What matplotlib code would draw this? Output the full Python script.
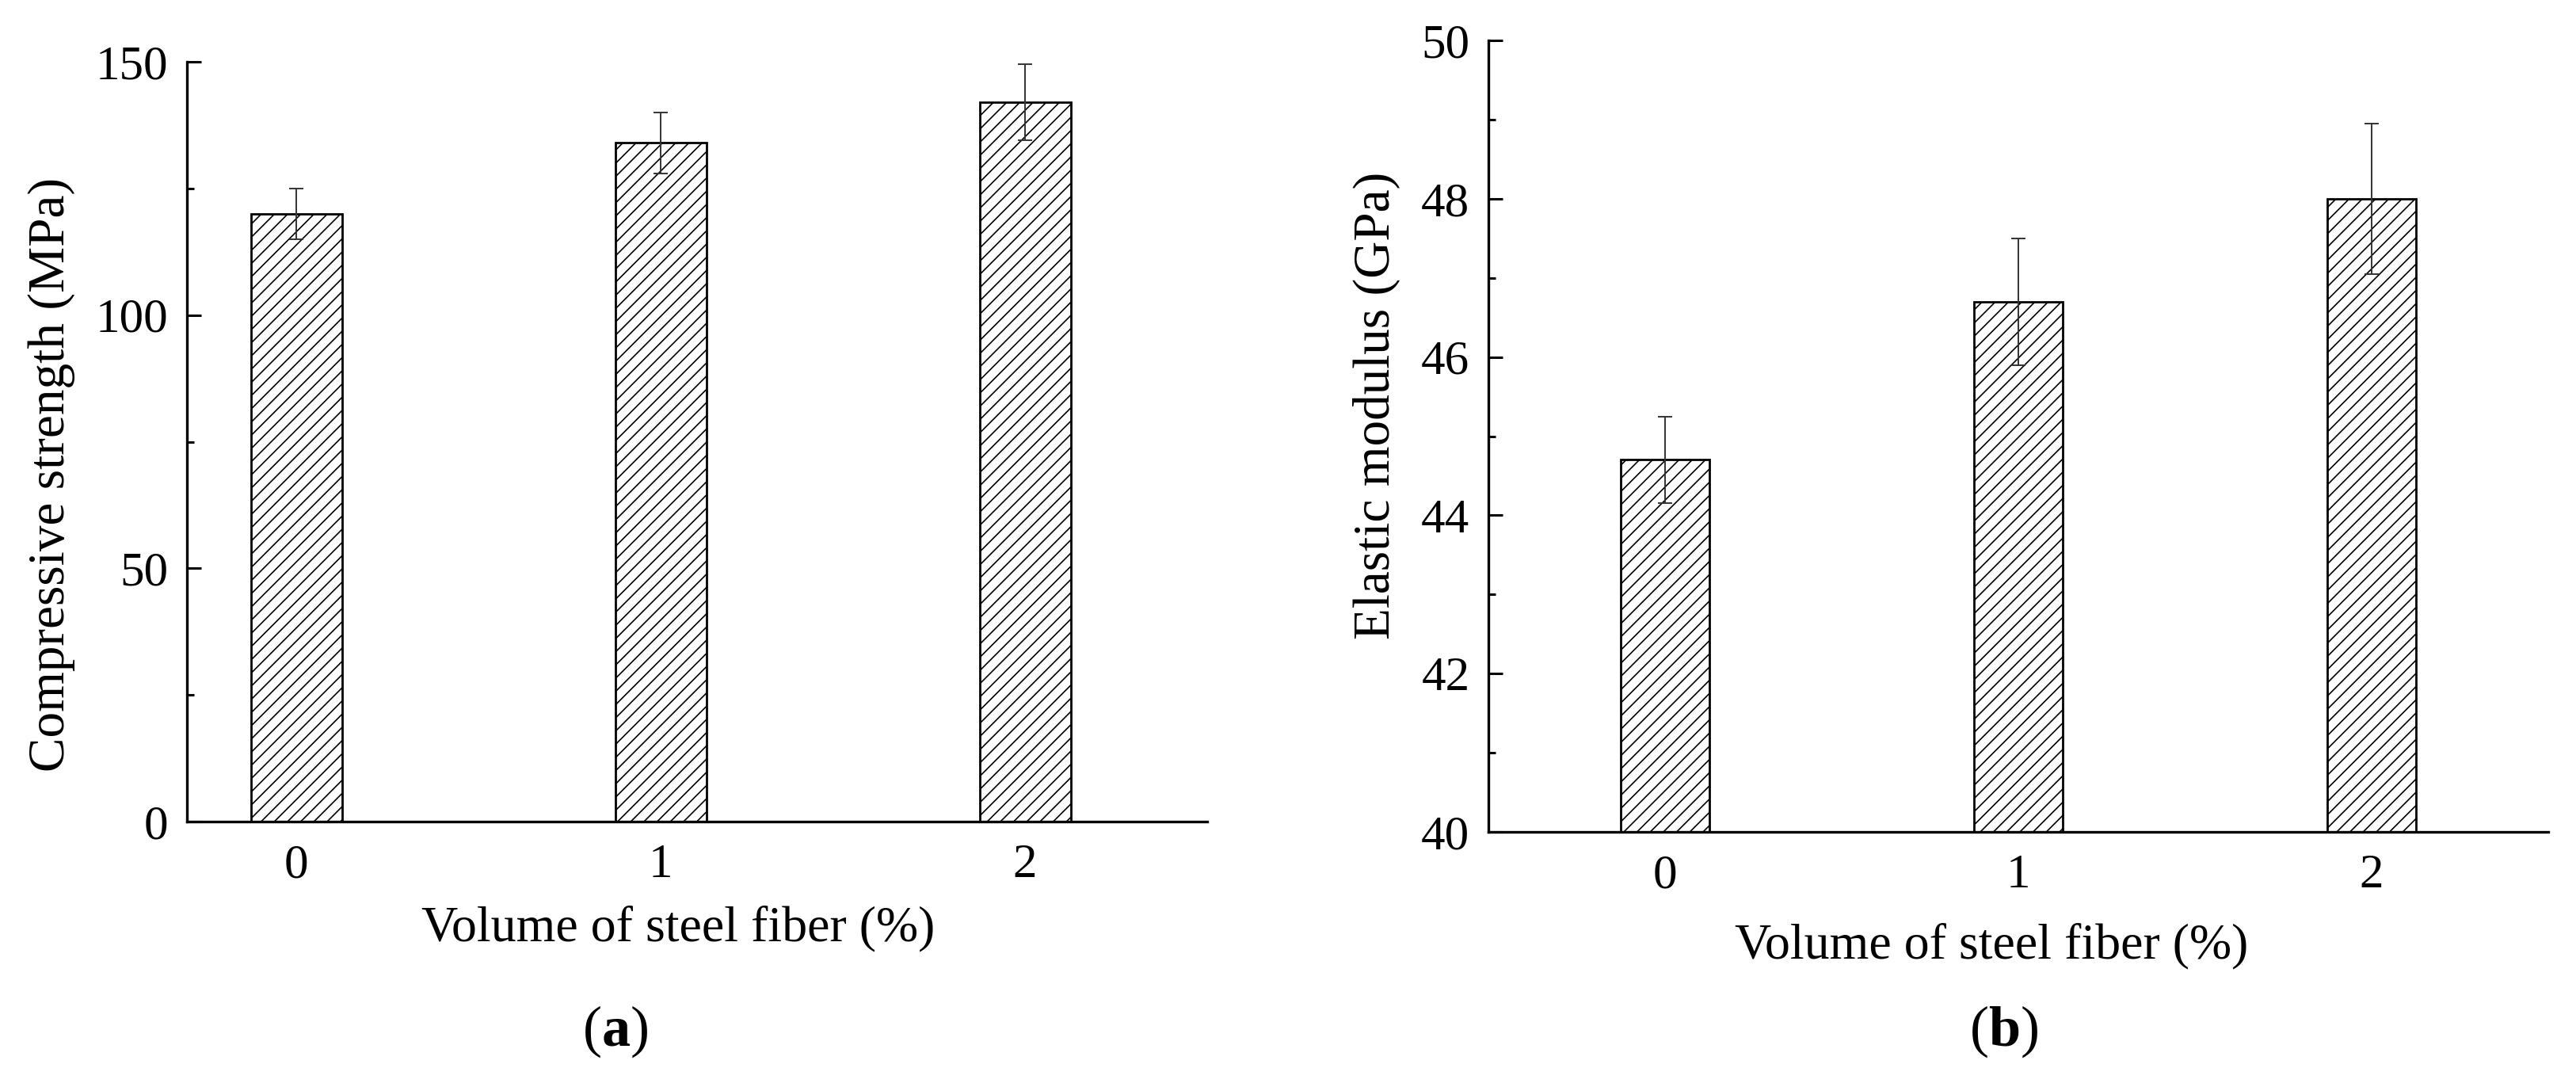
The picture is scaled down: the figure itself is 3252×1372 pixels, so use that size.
import numpy as np
import matplotlib.pyplot as plt
from matplotlib.ticker import MultipleLocator

plt.rcParams['font.family'] = ['Liberation Serif', 'DejaVu Serif']
plt.rcParams['mathtext.fontset'] = 'custom'
plt.rcParams['mathtext.rm'] = 'Liberation Serif'
plt.rcParams['mathtext.bf'] = 'Liberation Serif:bold'
plt.rcParams['hatch.linewidth'] = 0.6

W, H = 3252, 1372   # output size in pixels
DPI = 200

# data
fiber = [0, 1, 2]
fiber_labels = ["0", "1", "2"]
strength = [120, 134, 142]          # MPa
strength_err = [5, 6, 7.5]
modulus = [44.7, 46.7, 48.0]        # GPa
modulus_err = [0.55, 0.8, 0.95]

XLABEL = "Volume of steel fiber (%)"


def px_axes(fig, left, right, top, bottom):
    # place an axes using pixel coordinates of the final image
    return fig.add_axes([left / W, 1 - bottom / H, (right - left) / W, (bottom - top) / H])


def draw_panel(ax, vals, errs, ylim, major, minor, xlim):
    ax.bar(fiber, vals, width=0.25, color="white", edgecolor="black",
           linewidth=1.0, hatch="////", zorder=2)
    ax.errorbar(fiber, vals, yerr=errs, fmt="none", ecolor="#333333",
                elinewidth=0.7, capsize=3.2, capthick=0.7, zorder=3)

    ax.set_xlim(*xlim)
    ax.set_ylim(*ylim)
    ax.set_xticks(fiber)
    ax.set_xticklabels(fiber_labels)
    ax.yaxis.set_major_locator(MultipleLocator(major))
    ax.yaxis.set_minor_locator(MultipleLocator(minor))

    for side in ("top", "right"):
        ax.spines[side].set_visible(False)
    for side in ("left", "bottom"):
        ax.spines[side].set_linewidth(1.2)

    ax.tick_params(axis="both", which="major", direction="in", length=6.5,
                   width=1.1, labelsize=22)
    ax.tick_params(axis="y", which="minor", direction="in", length=3.2, width=1.1)
    ax.tick_params(axis="x", pad=10)
    ax.tick_params(axis="y", pad=8.5)


fig = plt.figure(figsize=(W / DPI, H / DPI), dpi=DPI)

ax1 = px_axes(fig, 236, 1524, 78, 1037)
draw_panel(ax1, strength, strength_err, (0, 150), 50, 25, (-0.3, 2.5))

ax2 = px_axes(fig, 1879, 3217, 51, 1050)
draw_panel(ax2, modulus, modulus_err, (40, 50), 2, 1, (-0.5, 2.5))

# axis titles and panel letters, placed in pixel coordinates
fig.text(65 / W, 1 - 599 / H, "Compressive strength (MPa)", rotation=90,
         ha="center", va="center", fontsize=23.5)
fig.text(1738 / W, 1 - 512 / H, "Elastic modulus (GPa)", rotation=90,
         ha="center", va="center", fontsize=23.5)

fig.text(856 / W, 1 - 1187 / H, XLABEL, ha="center", va="baseline", fontsize=23)
fig.text(2514 / W, 1 - 1209 / H, XLABEL, ha="center", va="baseline", fontsize=23)

fig.text(777 / W, 1 - 1320 / H, r"($\mathbf{a}$)", ha="center", va="baseline", fontsize=26)
fig.text(2530 / W, 1 - 1320 / H, r"($\mathbf{b}$)", ha="center", va="baseline", fontsize=26)

fig.savefig("out.png", dpi=DPI)
